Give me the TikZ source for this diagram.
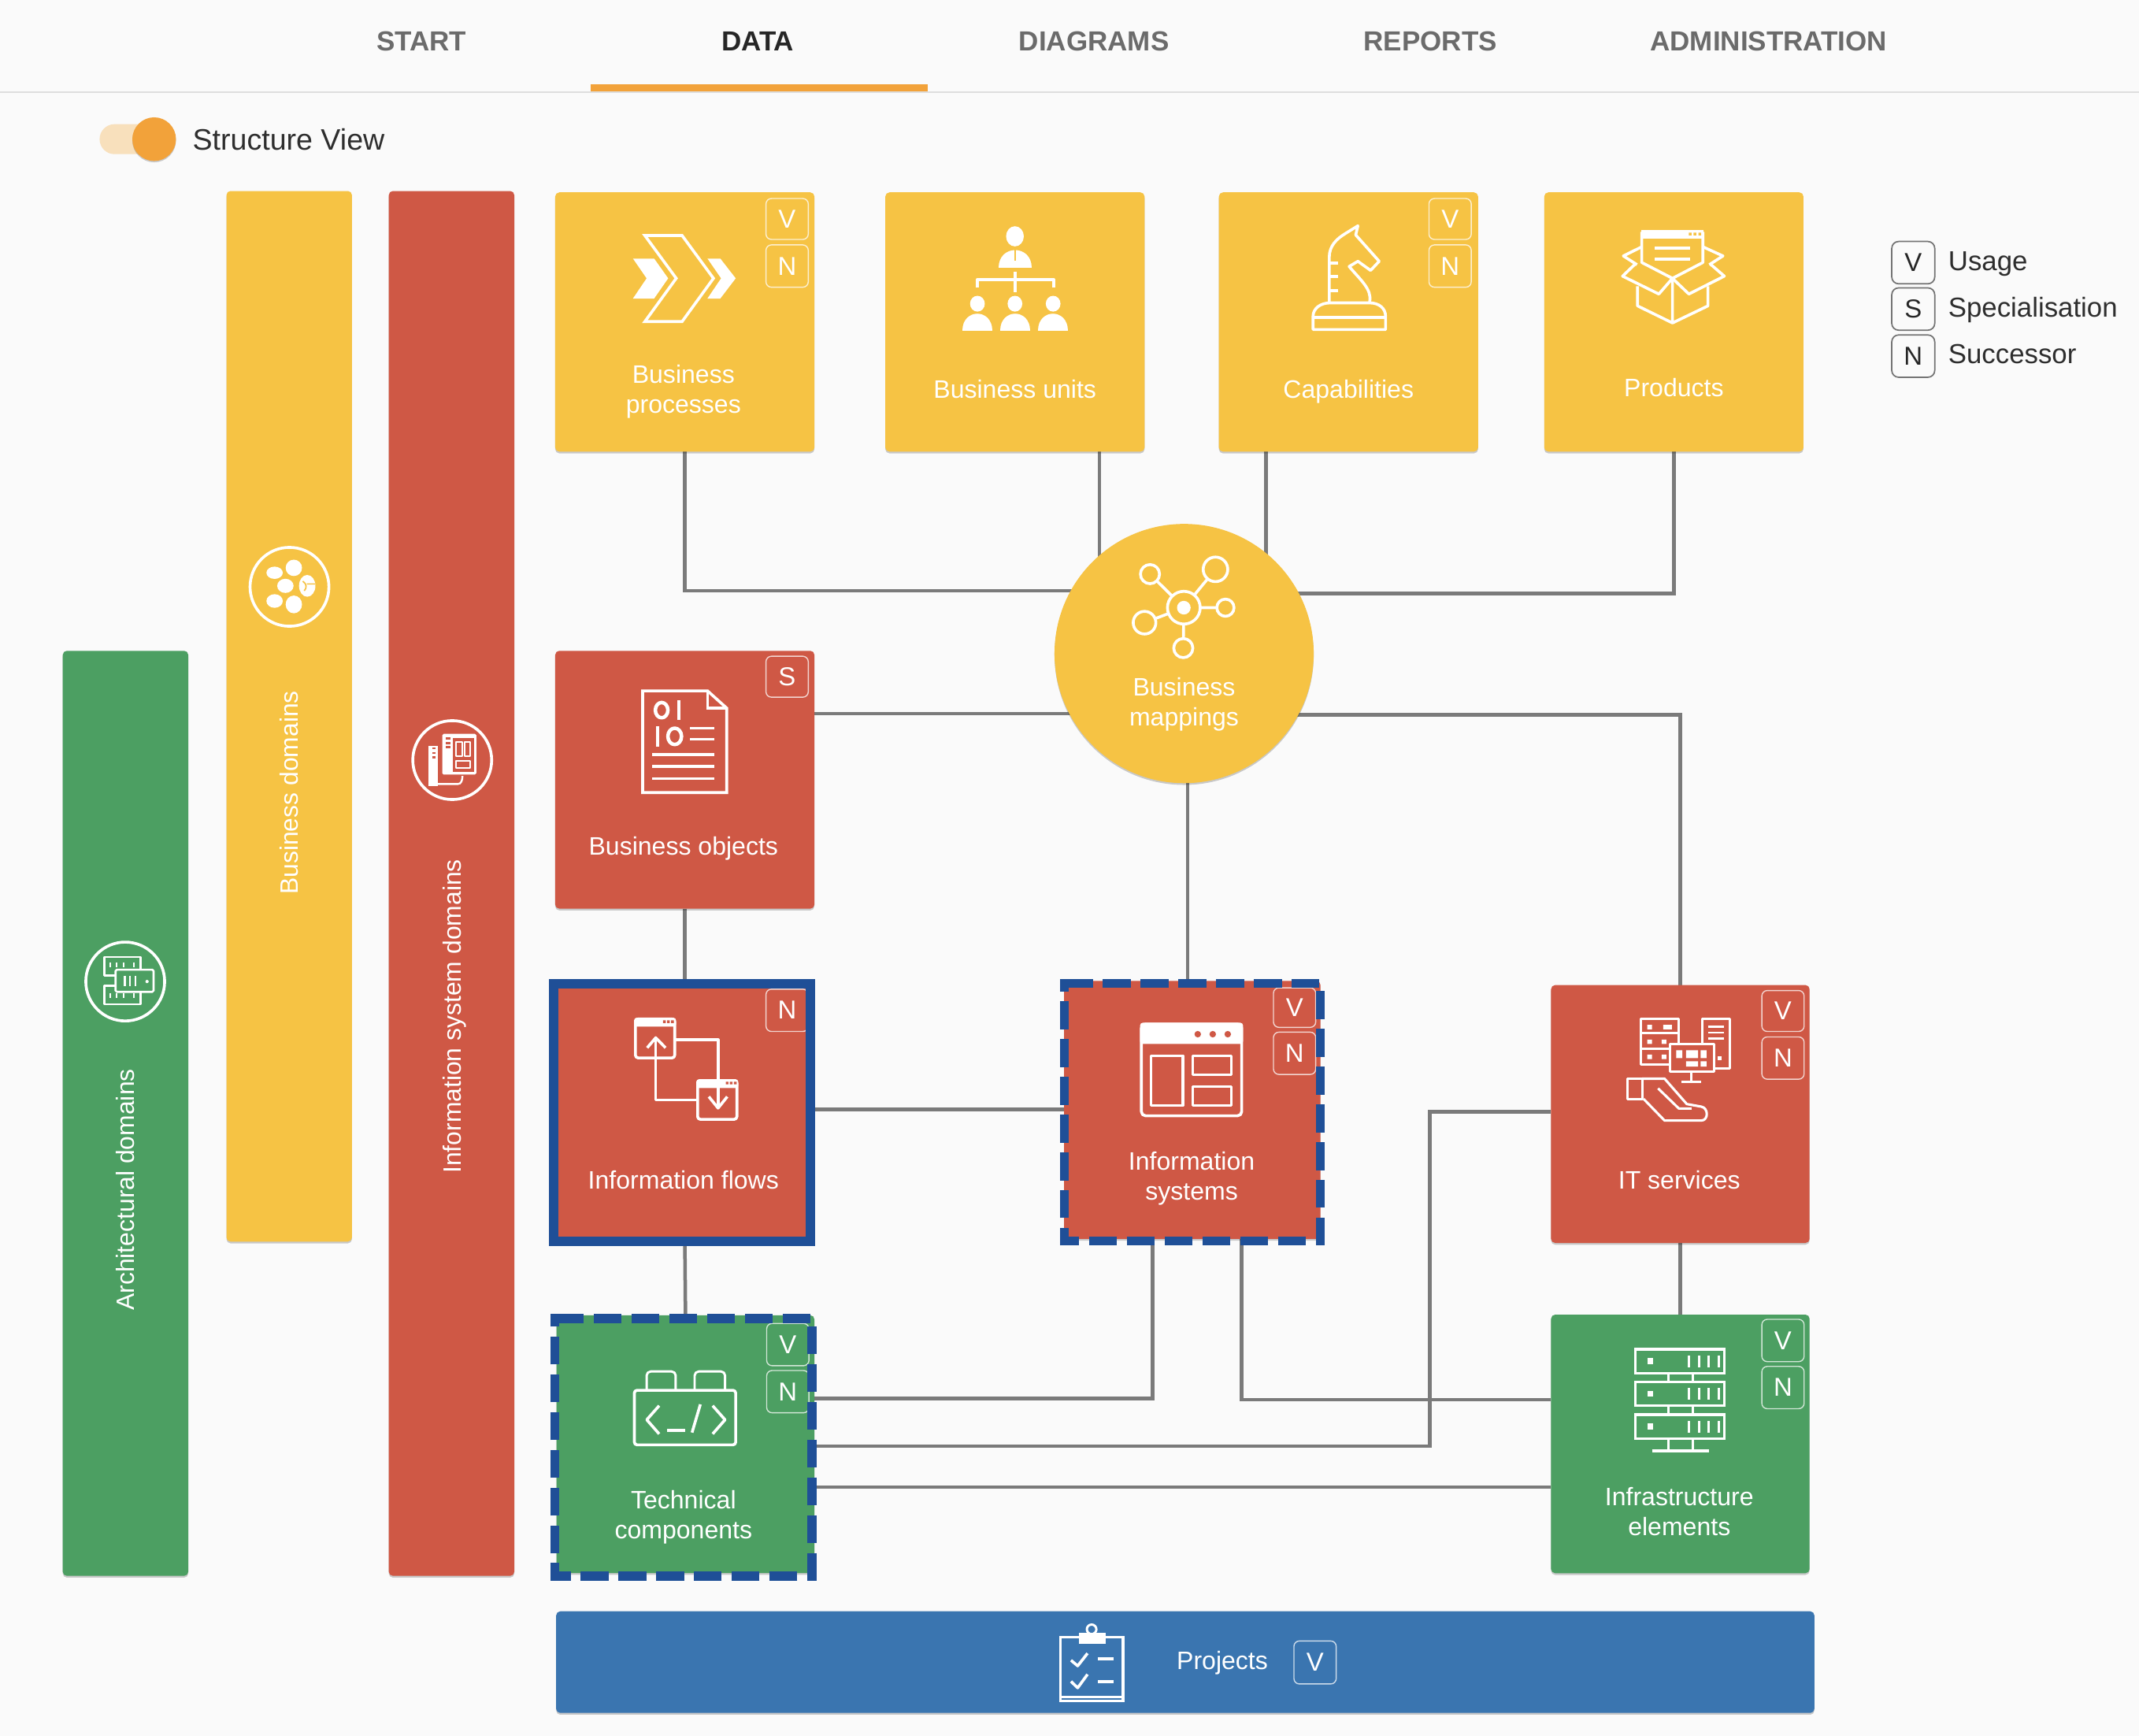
\documentclass[tikz,border=0pt]{standalone}
\usepackage{fontspec}
\setmainfont{Liberation Sans}
\usetikzlibrary{shadows,backgrounds}
\definecolor{pagebg}{HTML}{FAFAFA}
\definecolor{yel}{HTML}{F6C344}
\definecolor{redc}{HTML}{CF5845}
\definecolor{grn}{HTML}{4C9F62}
\definecolor{blu}{HTML}{3A75B0}
\definecolor{framec}{HTML}{1F4F97}
\definecolor{orng}{HTML}{F2A23A}
\definecolor{track}{HTML}{F8E0BC}
\tikzset{
  softshadow/.style={drop shadow={shadow xshift=0pt,shadow yshift=-1.3pt,opacity=.2,fill=black}},
  card/.style={rectangle,rounded corners=3pt,inner sep=0pt,outer sep=0pt,softshadow},
  badge/.style={rectangle,rounded corners=4pt,draw=white,draw opacity=.75,line width=.8pt,text=white,inner sep=0pt,minimum width=31pt,font=\fontsize{19}{19}\selectfont},
  legbadge/.style={rectangle,rounded corners=5pt,draw=black!55,line width=1pt,text=black!85,inner sep=0pt,minimum width=31.5pt,minimum height=31pt,font=\fontsize{19}{19}\selectfont},
  lbl/.style={text=white,align=center,inner sep=0pt,font=\fontsize{18.5}{22}\selectfont},
  vlbl/.style={text=white,rotate=90,inner sep=0pt,font=\fontsize{18.4}{22}\selectfont},
  tab/.style={text=black!58,inner sep=0pt,font=\fontsize{20.2}{24}\selectfont\bfseries},
  leg/.style={text=black!82,anchor=base west,inner sep=0pt,font=\fontsize{20.1}{24}\selectfont},
  conn/.style={draw=black!52,line width=2.6pt,line join=miter},
  hlframe/.style={draw=framec,line width=6.6pt,line join=miter,line cap=butt},
  hldash/.style={hlframe,dash pattern=on 20.3pt off 7.4pt},
  ic/.style={draw=white,line width=2.1pt,line join=round},
  ict/.style={draw=white,line width=1.4pt,line join=round},
  icf/.style={fill=white,draw=none},
}
% dashed highlight: each side has its own dashes, args are the outer x0,x1,y0,y1
\newcommand{\hlbox}[4]{%
  \fill[framec] (#1,#3) rectangle (#1+4,#3+6.6);
  \draw[hldash] (#1+4,#3+3.3) -- (#2-4,#3+3.3);
  \draw[hldash] (#2-3.3,#3+9) -- (#2-3.3,#4);
  \draw[hldash] (#2-14,#4-3.3) -- (#1,#4-3.3);
  \draw[hldash] (#1+3.3,#4-20) -- (#1+3.3,#3);
  \draw[hlframe] (#1+3.3,#4) -- (#1+3.3,#4-13);
}
\begin{document}
\begin{tikzpicture}[x=1pt,y=-1pt]
\useasboundingbox (0,0) rectangle (1568,1272.4);

% header
\node[tab] (t1) at (309,30) {START};
\node[tab,text=black!85] (t2) at (555.5,30) {DATA};
\node[tab] (t3) at (802,30) {DIAGRAMS};
\node[tab] (t4) at (1048.5,30) {REPORTS};
\node[tab] (t5) at (1296.5,30) {ADMINISTRATION};
\fill[orng] (433,62) rectangle (680,67);

% toggle
\fill[track,rounded corners=11pt] (73,91) rectangle (122,113);
\node[circle,fill=orng,minimum size=32pt,inner sep=0pt,drop shadow={shadow xshift=0pt,shadow yshift=-1pt,opacity=.2,fill=black}] (knob) at (113,102) {};
\node[text=black!82,anchor=west,inner sep=0pt,font=\fontsize{21.7}{24}\selectfont] (sv) at (141,102) {Structure View};

% sidebars
\node[card,fill=grn,minimum width=92pt,minimum height=678pt] (sg) at (92,816) {};
\node[card,fill=yel,minimum width=92pt,minimum height=770pt] (sy) at (212,525) {};
\node[card,fill=redc,minimum width=92pt,minimum height=1015pt] (sr) at (331,647.5) {};
\node[vlbl] (lsg) at (92,872) {Architectural domains};
\node[vlbl] (lsy) at (212,581) {Business domains};
\node[vlbl] (lsr) at (333.5,745) {Information system domains};

% cards
\node[card,fill=yel,minimum width=190pt,minimum height=190pt] (bp) at (502,236) {};
\node[card,fill=yel,minimum width=190pt,minimum height=190pt] (bu) at (744,236) {};
\node[card,fill=yel,minimum width=190pt,minimum height=190pt] (cap) at (988.5,236) {};
\node[card,fill=yel,minimum width=190pt,minimum height=190pt] (prod) at (1227,236) {};
\node[circle,fill=yel,minimum size=190pt,inner sep=0pt,outer sep=0pt,softshadow] (bm) at (868,479) {};
\node[card,fill=redc,minimum width=190pt,minimum height=189pt] (bo) at (502,571.5) {};
\node[card,fill=redc,minimum width=190pt,minimum height=190pt] (if) at (502,815) {};
\node[card,fill=redc,minimum width=188pt,minimum height=189pt] (is) at (874,813.5) {};
\node[card,fill=redc,minimum width=189.5pt,minimum height=189pt] (it) at (1231.75,816.5) {};
\node[card,fill=grn,minimum width=189pt,minimum height=189pt] (tc) at (502.5,1058.5) {};
\node[card,fill=grn,minimum width=189.5pt,minimum height=189.5pt] (infra) at (1231.75,1058.3) {};
\node[card,fill=blu,minimum width=922.3pt,minimum height=74.5pt] (proj) at (868.85,1218.25) {};

% connectors
\begin{scope}[on background layer]
\fill[pagebg] (0,0) rectangle (1568,1272.4);
\draw[black!13,line width=1.3pt] (0,67.5) -- (1568,67.5);
\draw[conn] (bp.south) |- (bm.center |- 0,433);
\draw[conn] ([xshift=62pt]bu.south) -- ([xshift=62pt]bu.south |- bm.center);
\draw[conn] ([xshift=-60.5pt]cap.south) -- ([xshift=-60.5pt]cap.south |- bm.center);
\draw[conn] (prod.south) |- (bm.center |- 0,435);
\draw[conn] (bo.east |- 0,523) -- (bm.center |- 0,523);
\draw[conn] (bm.center |- 0,524) -| (it.north);
\draw[conn] ([xshift=2.5pt]bm.south) -- ([xshift=2.5pt]bm.south |- is.north);
\draw[conn] (bo.south) -- (if.north);
\draw[conn] (if.east |- 0,813) -- (is.west |- 0,813);
\draw[conn] (if.south) -- (tc.north);
\draw[conn] ([xshift=-29pt]is.south) |- (tc.east |- 0,1025);
\draw[conn] ([xshift=36pt]is.south) |- (infra.west |- 0,1026);
\draw[conn] (it.west |- 0,815) -| (1048,1060) -- (tc.east |- 0,1060);
\draw[conn] (it.south) -- (infra.north);
\draw[conn] (tc.east |- 0,1090) -- (infra.west |- 0,1090);
\end{scope}

% labels
\node[lbl] (lbp) at (501,287) {Business\\processes};
\node[lbl] (lbu) at (744,285) {Business units};
\node[lbl] (lcap) at (988.5,287) {Capabilities};
\node[lbl] (lprod) at (1227,284) {Products};
\node[lbl] (lbm) at (868,516) {Business\\mappings};
\node[lbl] (lbo) at (501,622) {Business objects};
\node[lbl] (lif) at (501,865) {Information flows};
\node[lbl] (lis) at (873.5,864) {Information\\systems};
\node[lbl] (lit) at (1231,865) {IT services};
\node[lbl] (ltc) at (501,1112) {Technical\\components};
\node[lbl] (linf) at (1231,1108) {Infrastructure\\elements};
\node[lbl] (lpr) at (896,1219) {Projects};

% badges
\node[badge,minimum height=30pt] (b1) at (577,160.5) {V};
\node[badge,minimum height=31pt] (b2) at (577,195) {N};
\node[badge,minimum height=30pt] (b3) at (1063,160.5) {V};
\node[badge,minimum height=31pt] (b4) at (1063,195) {N};
\node[badge,minimum height=30pt] (b5) at (577,496) {S};
\node[badge,minimum height=31pt] (b6) at (577,740.5) {N};
\node[badge,minimum height=29pt] (b7) at (949,738.5) {V};
\node[badge,minimum height=31pt] (b8) at (949,772) {N};
\node[badge,minimum height=30pt] (b9) at (1307,741) {V};
\node[badge,minimum height=31pt] (b10) at (1307,775.5) {N};
\node[badge,minimum height=31pt] (b11) at (577.5,985.5) {V};
\node[badge,minimum height=31pt] (b12) at (577.5,1020) {N};
\node[badge,minimum height=31pt] (b13) at (1307,982.5) {V};
\node[badge,minimum height=31pt] (b14) at (1307,1017) {N};
\node[badge,minimum height=31.5pt] (b15) at (964,1218.5) {V};

% highlight frames
\draw[hlframe,line width=7pt] (406,721.3) -- (594.1,721.3) -- (594.1,909.9) -- (406,909.9) -- cycle;
\hlbox{776.8}{971}{717.5}{912.8}
\hlbox{403.5}{598.5}{963}{1158.6}

% legend
\node[legbadge] (lv) at (1402.5,192.5) {V};
\node[legbadge] (ls) at (1402.5,226.5) {S};
\node[legbadge] (ln) at (1402.5,261) {N};
\node[leg] (tv) at (1428,198.4) {Usage};
\node[leg] (ts) at (1428,232.4) {Specialisation};
\node[leg] (tn) at (1428,266.4) {Successor};

% --- icon: chevrons
\draw[ic,line join=miter] (472.7,172.6) -- (500,172.6) -- (523,204) -- (500,235.7) -- (472.7,235.7) -- (495.7,204) -- cycle;
\fill[icf] (464,189.5) -- (479.5,189.5) -- (489.8,204) -- (479.5,218.8) -- (464,218.8) -- (474,204) -- cycle;
\fill[icf] (518.6,189.5) -- (528,189.5) -- (539.3,204) -- (528,218.8) -- (518.6,218.8) -- (528.6,204) -- cycle;

% --- icon: org
\fill[icf] (744,173.2) ellipse [x radius=6.5,y radius=7.4];
\fill[icf] (732,196) .. controls (732,179) and (756,179) .. (756,196) -- cycle;
\draw[yel,line width=1.2pt] (744,183) -- (744,191);
\draw[ic] (744,199) -- (744,214) (716.5,211) -- (716.5,205) -- (772.5,205) -- (772.5,211);
\foreach \cx in {716.5,744,772}{
  \fill[icf] (\cx,222.6) ellipse [x radius=5.4,y radius=5.8];
  \fill[icf] (\cx-11,242.5) .. controls (\cx-11,226) and (\cx+11,226) .. (\cx+11,242.5) -- cycle;
}

% --- icon: knight
\draw[ic] (974.4,221.3) -- (974.4,188.6) .. controls (974.4,180) and (980,175) .. (986,171.3) -- (995.4,165.5) -- (993.8,172.2) -- (1011,191.5) -- (1004.7,198.2) -- (995.4,191.5) -- (989,195.3) .. controls (997,205) and (1006,212) .. (1004,221.3);
\draw[ic] (974.4,192.8) -- (981,192.8) (974.4,202.6) -- (981,202.6) (974.4,213) -- (981,213);
\draw[ic] (962.5,241.5) -- (962.5,232) .. controls (962.5,226) and (968,222) .. (975,222) -- (1004,222) .. controls (1011,222) and (1015.7,226) .. (1015.7,232) -- (1015.7,241.5) -- cycle;
\draw[ic] (962.5,232.8) -- (1015.7,232.8);

% --- icon: product box
\fill[icf] (1203,168.4) rectangle (1248.8,175);
\fill[yel] (1238,170.5) rectangle (1240,172.5) (1241.5,170.5) rectangle (1243.5,172.5) (1245,170.5) rectangle (1247,172.5);
\draw[ic] (1203.5,170) -- (1203.5,192.4) -- (1226,204) -- (1248.3,192.4) -- (1248.3,170);
\draw[ic] (1213,181.8) -- (1239,181.8) (1213,190) -- (1239,190);
\draw[ic] (1203.5,180.9) -- (1190,187.6) -- (1200,194) (1248.3,180.9) -- (1263,187.6) -- (1253,194);
\draw[ic] (1198.8,193.4) -- (1189.4,202.4) -- (1216,215.5) -- (1226,204) -- (1238,215.5) -- (1264,202.4) -- (1253.6,193.4);
\draw[ic] (1200.4,209.8) -- (1200.4,224.2) -- (1226,236.7) -- (1252,224.2) -- (1252,209.8) (1226,204) -- (1226,236.7);

% --- icon: hub
\draw[ic] (867.8,445.4) -- (843,420.8) (867.8,445.4) -- (891,417.3) (867.8,445.4) -- (898.3,445.4) (867.8,445.4) -- (839,456.4) (867.8,445.4) -- (867.4,475);
\foreach \hx/\hy/\hr in {843/420.8/7,891/417.3/9,898.3/445.4/6.3,839/456.4/8.3,867.4/475/7,867.8/445.4/12}{
  \draw[ic,fill=yel] (\hx,\hy) circle [radius=\hr];
}
\fill[icf] (867.8,445.4) circle [radius=5];

% --- icon: business object document
\draw[ic,line join=miter] (471.1,506.4) -- (518.7,506.4) -- (532.7,519) -- (532.7,580.9) -- (471.1,580.9) -- cycle;
\draw[ic,line join=miter] (518.7,506.4) -- (518.7,519) -- (532.7,519);
\draw[ic,line width=2.6pt] (485,520.5) ellipse [x radius=4.6,y radius=5.6];
\draw[ic,line width=2.6pt] (497.5,513.2) -- (497.5,527.9) (482,532.3) -- (482,547);
\draw[ic,line width=2.6pt] (494.6,539.7) ellipse [x radius=5,y radius=6];
\draw[ic] (506,533.8) -- (523.9,533.8) (506,541.7) -- (523.9,541.7);
\draw[ic] (478.2,552.9) -- (523.9,552.9) (478.2,561.8) -- (523.9,561.8) (478.2,570.6) -- (523.9,570.6);

% --- icon: information flows
\draw[ic,rounded corners=2pt] (465.8,746.9) rectangle (494.6,775.4);
\fill[icf,rounded corners=2pt] (464.8,745.9) rectangle (495.6,752.5);
\draw[ic,rounded corners=2pt] (511.4,792) rectangle (540.2,820.4);
\fill[icf,rounded corners=2pt] (510.4,791) rectangle (541.2,797.5);
\fill[redc] (486,747.8) rectangle (488,749.8) (489,747.8) rectangle (491,749.8) (492,747.8) rectangle (494,749.8);
\fill[redc] (532,792.8) rectangle (534,794.8) (535,792.8) rectangle (537,794.8) (538,792.8) rectangle (540,794.8);
\draw[ic] (495.6,762.1) -- (526.4,762.1) -- (526.4,812.2);
\draw[ic] (519.6,803.8) -- (526.4,812.2) -- (533.1,803.8);
\draw[ic] (510.4,806.3) -- (480.7,806.3) -- (480.7,760.6);
\draw[ic] (474.4,768) -- (480.7,760.6) -- (487.9,768);

% --- icon: information systems window
\draw[ic,rounded corners=3pt] (836.7,750.6) rectangle (910.2,817.8);
\fill[icf,rounded corners=2pt] (835.7,749.6) rectangle (911.2,765.2);
\foreach \dx in {878,889,900}{ \fill[redc] (\dx,758) circle [radius=2.4]; }
\draw[ic] (843.8,773.8) rectangle (867,810.2);
\draw[ic] (874.4,773.8) rectangle (902.7,787.7);
\draw[ic] (874.4,796.3) rectangle (902.7,810.2);

% --- icon: IT services
\draw[ict,line width=1.7pt] (1202.8,746.7) rectangle (1230.8,780.4);
\draw[ict,line width=1.7pt] (1202.8,757.3) -- (1230.8,757.3) (1202.8,768.8) -- (1230.8,768.8);
\fill[icf] (1207.5,751.2) rectangle (1211,754.4) (1219.2,751.2) rectangle (1225.6,754.4) (1207.5,762) rectangle (1211,765.2) (1218,762) rectangle (1221.5,765.2) (1207.5,773) rectangle (1211,776.2) (1218,773) rectangle (1221.5,776.2);
\draw[ict,line width=1.7pt] (1248,746.7) rectangle (1268.3,783.2);
\draw[ict] (1252,752.4) -- (1264,752.4) (1252,756.7) -- (1264,756.7) (1252,761.1) -- (1264,761.1);
\fill[icf] (1259,774) rectangle (1262.2,777.2);
\draw[ict,line width=1.7pt,fill=redc] (1224,765) rectangle (1256.7,785.2);
\fill[icf] (1228.8,769.8) rectangle (1233.2,775.5) (1236,769.8) rectangle (1244.8,775.5) (1246.7,769.8) rectangle (1251,775.5) (1236,777.8) rectangle (1244.8,781.7) (1246.7,777.8) rectangle (1251,781.7);
\draw[ict,line width=1.7pt] (1239.8,785.2) -- (1239.8,793.2) (1232.7,793.2) -- (1247.1,793.2);
\draw[ict,line width=1.8pt] (1193.2,790.6) rectangle (1203.8,805.4);
\draw[ict,line width=1.8pt] (1203.8,790.6) -- (1220.2,790.6) -- (1236.5,809.2) -- (1247.1,811.1) .. controls (1252.5,812) and (1252.5,821.3) .. (1247.1,821.3) -- (1220.2,821.3) -- (1204.8,805.4);
\draw[ict,line width=1.8pt] (1215.4,797.7) -- (1230.7,812.5) -- (1240,812.5);

% --- icon: technical components
\draw[ic,rounded corners=2pt] (465,1019) rectangle (539.3,1059);
\draw[ic,line width=1.7pt,rounded corners=3pt] (474,1019) -- (474,1005.2) -- (495.3,1005.2) -- (495.3,1019);
\draw[ic,line width=1.7pt,rounded corners=3pt] (509.2,1019) -- (509.2,1005.2) -- (531.5,1005.2) -- (531.5,1019);
\draw[ic] (483.2,1030.3) -- (474.1,1040.6) -- (483.2,1051);
\draw[ic] (489.2,1048.3) -- (502.5,1048.3);
\draw[ic] (507.3,1050) -- (513.4,1029.3);
\draw[ic] (522.4,1030.3) -- (531.5,1040.6) -- (522.4,1051);

% --- icon: infrastructure servers
\foreach \sy in {989,1012.8,1036.9}{
  \draw[ic,line join=miter] (1198.8,\sy) rectangle (1264,\sy+17.5);
  \fill[icf] (1207.5,\sy+6.5) rectangle (1212,\sy+11);
  \foreach \tx in {1238,1245.3,1252.6,1259.8}{ \draw[ict,line width=1.7pt] (\tx,\sy+4.5) -- (\tx,\sy+13); }
}
\draw[ict,line width=1.7pt] (1223,1006.5) -- (1223,1012.8) (1241,1006.5) -- (1241,1012.8) (1223,1030.3) -- (1223,1036.9) (1241,1030.3) -- (1241,1036.9) (1223,1054.4) -- (1223,1063.3) (1241,1054.4) -- (1241,1063.3);
\draw[ic] (1211,1063.3) -- (1253,1063.3);

% --- icon: projects clipboard
\draw[ic,line join=miter] (777.3,1200) rectangle (823.2,1246.8);
\draw[ict] (777.3,1243.7) -- (823.2,1243.7);
\fill[icf] (791,1197) rectangle (810.5,1204.6);
\draw[ict,line width=1.7pt] (800.2,1194.2) circle [radius=3.5];
\draw[ic] (785.1,1216.9) -- (790,1221) -- (797.2,1211.8);
\draw[ic] (785.1,1232.4) -- (790,1237.1) -- (797.2,1227.2);
\draw[ic] (805,1215.9) -- (816.5,1215.9) (805,1232.4) -- (816.5,1232.4);

% --- sidebar icon: paw
\draw[ic] (212.2,430.1) circle [radius=28.9];
\fill[icf] (209.2,429.4) ellipse [x radius=6,y radius=5.2];
\fill[icf] (201.3,419.8) ellipse [x radius=6,y radius=4.5];
\fill[icf] (215.4,416.2) ellipse [x radius=6,y radius=6];
\fill[icf] (201.3,440.5) ellipse [x radius=6,y radius=5];
\fill[icf] (215.4,443) ellipse [x radius=6,y radius=6.5];
\fill[icf] (225.2,429.4) ellipse [x radius=6,y radius=8];
\draw[yel,line width=1pt] (222,426) .. controls (225,428) and (225,431) .. (223,433) (225,428) -- (231,428);

% --- sidebar icon: information system domains
\draw[ic] (331.5,557.1) circle [radius=28.9];
\fill[icf] (314.2,546.5) rectangle (320.8,576);
\draw[ict] (320.8,574.6) -- (335.8,574.6) .. controls (338,574.6) and (339,572) .. (339,568.7);
\fill[icf,rounded corners=1pt] (324.2,537.9) rectangle (349.2,567.7);
\fill[redc] (331.9,540.8) rectangle (347.3,565.8);
\draw[ict,line width=1.1pt] (334.2,543.7) rectangle (339,554.2) (340.6,543.7) rectangle (344.8,554.2) (334.2,557.7) rectangle (344.8,562.9);
\foreach \dy in {541.3,544.6,547.5}{ \fill[redc] (326.8,\dy-.7) rectangle (330,\dy+.7); }
\foreach \dy in {548.5,551.9,555.2}{ \fill[redc] (316.9,\dy-.7) rectangle (319.4,\dy+.7); }

% --- sidebar icon: architectural domains
\draw[ic] (91.8,719.4) circle [radius=28.9];
\draw[ict,line width=1.5pt] (84.7,715) -- (76.6,715) -- (76.6,701.5) -- (103,701.5) -- (103,710.7);
\draw[ict,line width=1.5pt] (84.7,722.6) -- (76.6,722.6) -- (76.6,736.1) -- (103,736.1) -- (103,727);
\foreach \tx in {80.9,85.7,90.5,98.2}{
  \draw[ict,line width=1.1pt] (\tx,705.3) -- (\tx,709.2) (\tx,727.9) -- (\tx,731.3);
}
\draw[ict,line width=1.5pt,rounded corners=1pt] (84.7,710.7) rectangle (112.6,727);
\draw[ict,line width=1.3pt] (91.5,715) -- (91.5,722.6) (95.3,715) -- (95.3,722.6) (99.2,715) -- (99.2,722.6);
\fill[icf] (107.8,719.4) circle [radius=1.2];
\end{tikzpicture}
\end{document}
